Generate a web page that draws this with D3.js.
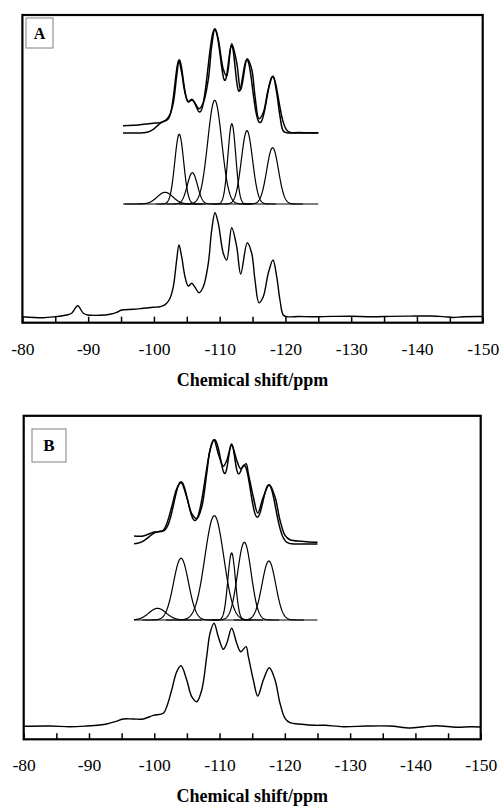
<!DOCTYPE html>
<html>
<head>
<meta charset="utf-8">
<script src="https://cdn.jsdelivr.net/npm/d3@7"></script>
<style>
  body { margin: 0; background: #fff; }
  svg { display: block; }
</style>
</head>
<body>
<svg id="chart" width="502" height="806"></svg>
<script>
// ---- axis ----
const majorTicks = [-80, -90, -100, -110, -120, -130, -140, -150];
const minorTicks = [-85, -95, -105, -115, -125, -135, -145];
const axisTitle = "Chemical shift/ppm";
const panelLetters = ["A", "B"];

// ---- panel A: measured 29Si spectrum ----
const shiftA = [-80, -83.2, -84.96, -86.74, -87.5, -88.41, -89.26, -89.93, -91.8, -93.32,
  -94.34, -95.1, -96.86, -98.38, -99.9, -100.92, -101.43, -101.94, -102.45, -102.95,
  -103.46, -103.81, -104.22, -104.73, -105.23, -105.75, -106.25, -106.86, -107.51, -108.27,
  -108.79, -109.29, -109.79, -110.55, -111.07, -111.83, -112.59, -113.2, -114.2, -114.87,
  -115.37, -115.98, -116.63, -117.39, -118.11, -118.67, -119.17, -119.67, -120.19, -122,
  -124, -127, -130, -133, -136, -139, -142, -144, -145.5, -147, -150];
const intensityA = [0.3, -0.7, 0.3, 2, 3.7, 11.3, 3.7, 2, 1.7, 2.7,
  4.7, 7, 7.7, 8.7, 9.7, 10.3, 11.3, 13.7, 18.7, 30.3,
  57, 72, 60.3, 40.3, 31, 33.7, 29.7, 24.3, 30.3, 53.7,
  87, 104.3, 93.7, 63.7, 57, 89.3, 70.3, 43, 74.3, 63.7,
  37, 14.3, 20.3, 43.7, 57, 40.3, 17, 2, 0.3, 0.5,
  0.2, 0.6, 0.8, 0.3, 0.6, 0.9, 1.0, 0.4, -0.5, 0.3, 0.5];

// ---- panel A: fitted Gaussian components ----
const peakCenterA = [-101.7, -103.85, -105.85, -109.25, -111.85, -114.15, -118.05];
const peakHeightA = [11.7, 69.7, 31.3, 103.7, 80.3, 73.3, 56.3];
const peakFwhmA   = [2.8, 1.6, 1.8, 2.5, 1.4, 2.0, 2.1];

// ---- panel B: measured 29Si spectrum ----
const shiftB = [-80, -84.03, -87.09, -89.65, -91.69, -92.71, -93.99, -95.26, -96.79, -98.32,
  -99.85, -101.38, -101.91, -102.67, -103.44, -104.1, -104.97, -105.74, -106.5, -107.27,
  -108.03, -108.54, -109.15, -109.81, -110.58, -111.1, -111.86, -112.63, -113.24, -114.05,
  -114.41, -115.17, -115.85, -116.7, -117.62, -118.5, -119.26, -120.03, -120.79, -122.59,
  -124.62, -126.15, -128.96, -132.54, -136.11, -139.18, -141.21, -143.27, -146.33, -148.37, -150];
const intensityB = [0.7, 1, 0.3, 1, 2, 3, 5.3, 8, 8, 8,
  11.7, 13.7, 20.3, 37, 55.3, 61.3, 47, 30.3, 25.3, 37,
  70.3, 93.7, 103.7, 90.3, 77.7, 83.7, 98.7, 83.7, 75.3, 80.3,
  70.3, 47, 31, 47, 59.3, 47, 23.7, 8.7, 4.3, 2.7,
  1.7, 1.7, 0.3, 1, 1, -1, 0.3, 1.3, -0.3, 0.3, 0];

// ---- panel B: fitted Gaussian components ----
const peakCenterB = [-100.5, -104.1, -109.2, -111.85, -113.8, -117.55];
const peakHeightB = [11.7, 61.7, 104.3, 67, 77.7, 59];
const peakFwhmB   = [3.1, 2.7, 3.4, 1.36, 2.45, 2.47];

const serif = "'Liberation Serif', 'Times New Roman', Times, serif";
const svg = d3.select("#chart");
svg.append("rect").attr("width", 502).attr("height", 806).attr("fill", "#fff");

const panels = [
  { letter: panelLetters[0], shift: shiftA, intensity: intensityA,
    centers: peakCenterA, heights: peakHeightA, fwhm: peakFwhmA,
    x0: 22.4, x1: 482.7, y0: 15, y1: 322.7, zeroY: 317,
    compOffset: 113, fitOffset: 184, inset: [-95.3, -125],
    labelPad: 20, titleY: 385.6,
    box: { x: 26, y: 18, w: 27, h: 30, size: 16 } },
  { letter: panelLetters[1], shift: shiftB, intensity: intensityB,
    centers: peakCenterB, heights: peakHeightB, fwhm: peakFwhmB,
    x0: 23.7, x1: 480.7, y0: 415.8, y1: 739.3, zeroY: 727,
    compOffset: 107, fitOffset: 183, inset: [-96.9, -125],
    labelPad: 19.2, titleY: 802,
    box: { x: 32, y: 429, w: 34, h: 33, size: 17 } }
];

const gauss = (c, h, w, s) => h * Math.exp(-4 * Math.LN2 * (s - c) * (s - c) / (w * w));

panels.forEach((p, idx) => {
  const x = d3.scaleLinear().domain([-80, -150]).range([p.x0, p.x1]);
  const y = d3.scaleLinear().domain([0, 100]).range([p.zeroY, p.zeroY - 100]);
  const g = svg.append("g");

  const spectrum = p.shift.map((s, i) => ({ s, v: p.intensity[i] }));
  const smooth = off => d3.line()
    .x(d => x(d.s)).y(d => y(d.v + off))
    .curve(d3.curveCatmullRom.alpha(0.5));
  const straight = off => d3.line().x(d => x(d.s)).y(d => y(d.v + off));

  // bottom trace: full measured spectrum
  g.append("path").attr("d", smooth(0)(spectrum))
    .attr("fill", "none").attr("stroke", "#000").attr("stroke-width", 1.4);

  // fitting window
  const clipId = "inset-clip-" + idx;
  g.append("clipPath").attr("id", clipId).append("rect")
    .attr("x", x(p.inset[0])).attr("y", p.y0)
    .attr("width", x(p.inset[1]) - x(p.inset[0])).attr("height", p.y1 - p.y0);

  const grid = d3.range(p.inset[0], p.inset[1] - 0.001, -0.05);

  // component baseline
  g.append("line")
    .attr("x1", x(p.inset[0])).attr("x2", x(p.inset[1]))
    .attr("y1", y(p.compOffset)).attr("y2", y(p.compOffset))
    .attr("stroke", "#000").attr("stroke-width", 1.2);

  // individual Gaussian components
  p.centers.forEach((c, i) => {
    const pts = grid.filter(s => Math.abs(s - c) < 2.2 * p.fwhm[i])
      .map(s => ({ s, v: gauss(c, p.heights[i], p.fwhm[i], s) }));
    g.append("path").attr("d", straight(p.compOffset)(pts))
      .attr("fill", "none").attr("stroke", "#000").attr("stroke-width", 1.2);
  });

  // sum of components (fit) and measured trace over the fitting window
  const fit = grid.map(s => ({
    s, v: d3.sum(p.centers, (c, i) => gauss(c, p.heights[i], p.fwhm[i], s))
  }));
  g.append("path").attr("d", straight(p.fitOffset)(fit))
    .attr("fill", "none").attr("stroke", "#000").attr("stroke-width", 1.5);
  g.append("path").attr("d", smooth(p.fitOffset)(spectrum))
    .attr("clip-path", `url(#${clipId})`)
    .attr("fill", "none").attr("stroke", "#000").attr("stroke-width", 1.5);

  // ticks (inward) and labels
  const axisG = g.append("g").attr("transform", `translate(0,${p.y1})`);
  axisG.append("g").call(d3.axisBottom(x).tickValues(minorTicks)
      .tickSizeInner(-6).tickSizeOuter(0).tickFormat(""))
    .call(a => a.select(".domain").remove());
  axisG.append("g").call(d3.axisBottom(x).tickValues(majorTicks)
      .tickSizeInner(-6).tickSizeOuter(0).tickPadding(p.labelPad)
      .tickFormat(d => String(d)))
    .call(a => a.select(".domain").remove())
    .call(a => a.selectAll("text").attr("font-family", serif)
      .attr("font-size", 17.5).attr("fill", "#000"));
  axisG.selectAll(".tick line").attr("stroke", "#000").attr("stroke-width", 1.5);

  // frame
  g.append("rect")
    .attr("x", p.x0).attr("y", p.y0)
    .attr("width", p.x1 - p.x0).attr("height", p.y1 - p.y0)
    .attr("fill", "none").attr("stroke", "#000").attr("stroke-width", 2.2);

  // axis title
  g.append("text").attr("x", (p.x0 + p.x1) / 2).attr("y", p.titleY)
    .attr("text-anchor", "middle").attr("font-family", serif)
    .attr("font-weight", "bold").attr("font-size", 18).text(axisTitle);

  // panel letter box
  g.append("rect").attr("x", p.box.x).attr("y", p.box.y)
    .attr("width", p.box.w).attr("height", p.box.h)
    .attr("fill", "#fff").attr("stroke", "#808080").attr("stroke-width", 1);
  g.append("text").attr("x", p.box.x + p.box.w / 2).attr("y", p.box.y + p.box.h / 2)
    .attr("dy", "0.35em").attr("text-anchor", "middle")
    .attr("font-family", serif).attr("font-weight", "bold")
    .attr("font-size", p.box.size).text(p.letter);
});
</script>
</body>
</html>
